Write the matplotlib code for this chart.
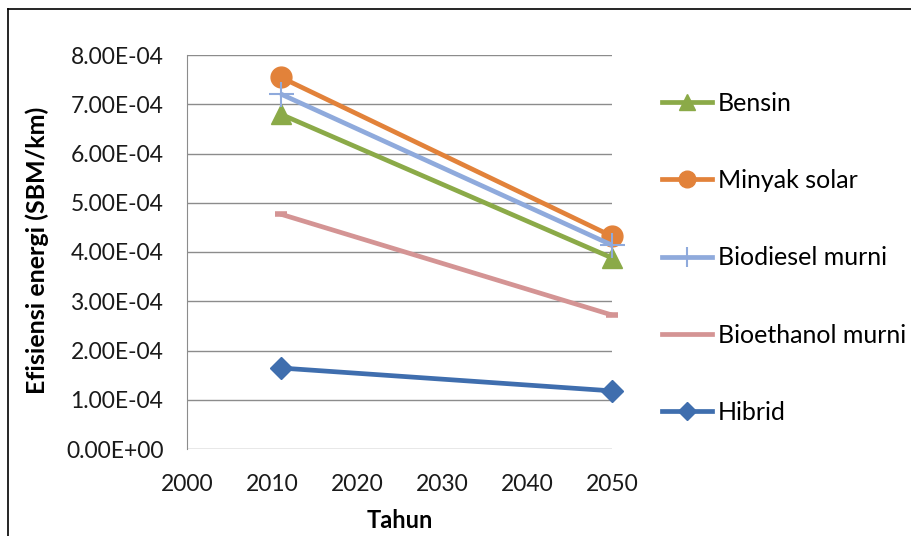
import matplotlib
matplotlib.use("Agg")
import matplotlib.pyplot as plt
from matplotlib.ticker import FuncFormatter, MultipleLocator
from matplotlib.lines import Line2D

plt.rcParams['font.family'] = ['Lato', 'DejaVu Sans']

years = [2011, 2050]
bensin = [6.80e-4, 3.88e-4]
minyak_solar = [7.55e-4, 4.32e-4]
biodiesel = [7.21e-4, 4.14e-4]
bioethanol = [4.77e-4, 2.72e-4]
hibrid = [1.645e-4, 1.18e-4]

labels = ["Bensin", "Minyak solar", "Biodiesel murni", "Bioethanol murni", "Hibrid"]
series = [bensin, minyak_solar, biodiesel, bioethanol, hibrid]
colors = ["#8BAA48", "#E2823A", "#8FAADC", "#D49494", "#3F6EAE"]
markers = ["^", "o", "+", "_", "D"]
msizes = [15, 15, 18, 9, 11]
mews = [1, 1, 1.5, 4, 1]

W, H = 911, 536
fig = plt.figure(figsize=(W / 100, H / 100), dpi=100)
ax = fig.add_axes([187 / W, 87 / H, 425 / W, 394 / H])

for ys, lab, c, m, ms, mew in zip(series, labels, colors, markers, msizes, mews):
    ax.plot(years, ys, color=c, lw=3.4, marker=m, markersize=ms, mew=mew,
            markeredgecolor=c, markerfacecolor=c, label=lab, solid_capstyle="butt",
            clip_on=False, zorder=3)

ax.set_xlim(2000, 2050)
ax.set_ylim(0, 8e-4)
ax.xaxis.set_major_locator(MultipleLocator(10))
ax.yaxis.set_major_locator(MultipleLocator(1e-4))
ax.yaxis.set_major_formatter(FuncFormatter(lambda v, p: f"{v:.2E}"))
ax.grid(axis="y", color="#8C8C8C", lw=1)
ax.set_axisbelow(True)
for s in ["top", "right", "bottom"]:
    ax.spines[s].set_visible(False)
ax.spines["left"].set_color("#8C8C8C")
ax.tick_params(length=0, labelsize=16.5, colors="#1A1A1A")
ax.tick_params(axis="x", pad=18)
ax.tick_params(axis="y", pad=17)

fig.text(400 / W, 1 - 520 / H, "Tahun", fontsize=17, fontweight="bold",
         ha="center", va="center")
fig.text(37 / W, 1 - 250 / H, "Efisiensi energi (SBM/km)", fontsize=18, fontweight="bold",
         ha="center", va="center", rotation=90)

handles = [Line2D([], [], color=c, lw=3.4, marker=m, markersize=ms * 0.8, mew=mew,
                  markeredgecolor=c, markerfacecolor=c)
           for c, m, ms, mew in zip(colors, markers, msizes, mews)]
handles[3] = Line2D([], [], color=colors[3], lw=3.4)
fig.legend(handles, labels, loc="upper left", bbox_to_anchor=(662 / W, 1 - 92 / H),
           frameon=False, fontsize=18, handlelength=2.0, handletextpad=0.24,
           labelspacing=2.17, borderaxespad=0, borderpad=0)

fig.add_artist(Line2D([8 / W, 8 / W], [0, 1 - 9 / H], transform=fig.transFigure,
                      color="black", lw=1.2))
fig.add_artist(Line2D([8 / W, 1], [1 - 9 / H, 1 - 9 / H], transform=fig.transFigure,
                      color="black", lw=1.2))

fig.savefig("out.png", dpi=100)
